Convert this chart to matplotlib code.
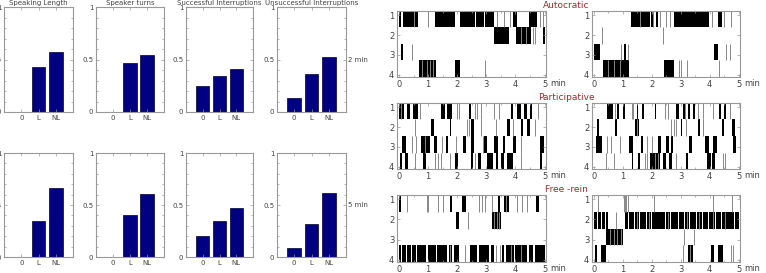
import matplotlib
matplotlib.use("Agg")
import matplotlib.pyplot as plt
import matplotlib.transforms as mtransforms
from matplotlib.ticker import MultipleLocator

# ---------------- data ----------------
BAR_TITLES = ["Speaking Length", "Speaker turns", "Successful Interruptions", "Unsuccessful Interruptions"]
BAR_CATS = ["0", "L", "NL"]
ROW_LABELS = ["2 min", "5 min"]
VALS_2MIN = [[0.0, 0.43, 0.57], [0.0, 0.47, 0.54], [0.25, 0.34, 0.41], [0.13, 0.36, 0.52]]
VALS_5MIN = [[0.0, 0.35, 0.66], [0.0, 0.40, 0.61], [0.20, 0.35, 0.47], [0.09, 0.32, 0.62]]

STYLE_TITLES = ["Autocratic", "Participative", "Free -rein"]
SPEAKERS = [1, 2, 3, 4]
TIME_TICKS = [0, 1, 2, 3, 4, 5]

# speaking blocks (minutes) per speaker, and thin single events
AUTO_L_BLOCKS = [
    [(0.0, 0.07), (0.15, 0.66), (1.25, 1.93), (2.08, 2.61), (2.65, 2.91), (2.95, 3.27), (3.90, 4.07), (4.47, 4.75)],
    [(3.27, 3.78), (4.01, 4.52), (4.94, 5.03)],
    [(0.06, 0.15)],
    [(0.68, 1.28), (1.91, 2.08)],
]
AUTO_L_LINES = [[0.5, 1.0, 3.35, 3.61, 3.82, 4.84, 4.94], [4.2, 4.35, 4.61, 4.66], [0.43], [0.8, 0.95, 1.05, 1.15, 2.95]]

AUTO_R_BLOCKS = [
    [(1.28, 1.92), (1.98, 2.09), (2.15, 2.23), (2.77, 3.20), (3.23, 3.99), (4.30, 4.44)],
    [],
    [(0.0, 0.21), (1.05, 1.10), (4.16, 4.30)],
    [(0.31, 1.22), (2.41, 2.77)],
]
AUTO_R_LINES = [[1.6, 2.03, 2.29, 2.5, 2.62, 4.07, 4.51, 4.74], [0.29, 2.38], [0.93, 1.16, 4.56, 4.71], [0.5, 0.7, 0.9, 2.93, 3.02, 3.23, 4.34]]

PART_L_BLOCKS = [
    [(0.0, 0.18), (0.26, 0.38), (0.49, 0.64), (1.45, 1.57), (1.66, 1.82), (2.39, 2.48), (3.84, 3.93), (4.07, 4.18), (4.30, 4.41), (4.50, 4.58)],
    [(1.11, 1.20), (1.74, 1.80), (2.48, 2.57), (3.70, 3.82), (4.18, 4.27), (4.41, 4.50)],
    [(0.09, 0.23), (0.77, 1.06), (1.20, 1.32), (1.62, 1.68), (2.19, 2.31), (2.48, 2.59), (2.93, 3.02), (3.27, 3.39), (3.56, 3.64), (3.93, 4.01), (4.84, 4.98)],
    [(0.04, 0.09), (0.20, 0.32), (0.83, 0.91), (1.91, 2.02), (2.48, 2.53), (2.70, 2.82), (3.02, 3.22), (3.33, 3.41), (3.50, 3.61), (3.70, 3.90), (4.84, 4.92)],
]
PART_L_LINES = [[0.08, 0.72, 1.98, 2.05, 2.6, 2.67, 2.82, 3.27, 3.44, 4.77],
                [0.55, 2.33, 2.40, 2.82, 3.33, 3.93, 4.66],
                [0.43, 0.58, 0.9, 1.48, 1.97, 2.87, 4.18],
                [0.55, 1.25, 1.35, 1.45, 1.74, 2.60, 4.18]]

PART_R_BLOCKS = [
    [(0.45, 0.65), (0.80, 0.85), (0.99, 1.08), (1.48, 1.53), (1.65, 1.74), (2.10, 2.16), (2.84, 2.95), (3.07, 3.18), (3.26, 3.33), (3.41, 3.49), (4.32, 4.40), (4.49, 4.58)],
    [(0.11, 0.17), (0.72, 0.80), (1.42, 1.56), (3.00, 3.05), (3.58, 3.67), (4.43, 4.49), (4.77, 4.89)],
    [(0.06, 0.26), (1.22, 1.36), (1.63, 1.68), (2.22, 2.33), (2.50, 2.58), (2.67, 2.73), (3.30, 3.38), (3.84, 3.98), (4.13, 4.24), (4.81, 4.92)],
    [(1.31, 1.36), (1.53, 1.59), (1.93, 2.27), (2.39, 2.50), (2.61, 2.69), (3.18, 3.26), (3.92, 4.03), (4.09, 4.17)],
]
PART_R_LINES = [[0.72, 1.3, 1.36, 2.47, 2.56, 3.13, 3.58, 3.78, 4.13, 4.72],
                [1.5, 2.65, 2.75, 2.85, 3.18, 3.78],
                [0.45, 0.57, 0.91, 1.82, 2.00],
                [0.40, 0.68, 1.75, 1.82, 2.1, 2.20, 2.84, 4.45, 4.52]]

FREE_L_BLOCKS = [
    [(0.0, 0.06), (1.76, 1.82), (2.16, 2.31), (3.39, 3.46), (3.60, 3.77), (4.72, 4.80)],
    [(1.97, 2.05), (3.20, 3.51)],
    [],
    [(0.0, 0.07), (0.11, 0.24), (0.29, 0.41), (0.46, 0.59), (0.63, 0.93), (0.98, 1.28), (1.32, 1.64), (1.70, 1.82),
     (1.90, 2.05), (2.45, 2.68), (2.74, 3.08), (3.16, 3.25), (3.54, 3.62), (3.69, 3.94), (4.00, 4.40), (4.46, 4.61), (4.66, 5.03)],
]
FREE_L_LINES = [[0.29, 0.95, 1.01, 1.35, 1.52, 2.74, 2.85, 2.97, 3.2, 3.66, 4.06, 4.23, 4.40],
                [2.36, 3.28, 3.36, 3.44],
                [],
                [1.76, 2.28, 3.34, 3.46, 3.85, 4.2]]

FREE_R_BLOCKS = [
    [],
    [(0.0, 0.12), (0.14, 0.25), (0.29, 0.38), (0.42, 0.48), (1.06, 1.16), (1.22, 1.38), (1.41, 1.55), (1.58, 1.80),
     (1.83, 1.97), (2.00, 2.20), (2.23, 2.45), (2.48, 2.62), (2.65, 2.90), (2.93, 3.10), (3.13, 3.30), (3.33, 3.52),
     (3.55, 3.75), (3.78, 3.95), (3.98, 4.20), (4.23, 4.40), (4.43, 4.62), (4.65, 4.85), (4.88, 5.03)],
    [(0.43, 1.00)],
    [(0.02, 0.11), (0.23, 0.43), (3.26, 3.41), (4.05, 4.14), (4.28, 4.45)],
]
FREE_R_LINES = [[0.14, 1.02, 1.07, 1.11, 1.19, 2.07, 4.10, 4.79],
                [0.77, 1.48, 1.90, 2.55, 3.20, 3.62, 4.10, 4.52],
                [0.55, 0.68, 0.80, 0.92, 3.10, 3.45],
                [3.08, 3.33, 4.73, 4.82]]

RASTERS = [
    (AUTO_L_BLOCKS, AUTO_L_LINES, AUTO_R_BLOCKS, AUTO_R_LINES),
    (PART_L_BLOCKS, PART_L_LINES, PART_R_BLOCKS, PART_R_LINES),
    (FREE_L_BLOCKS, FREE_L_LINES, FREE_R_BLOCKS, FREE_R_LINES),
]

# ---------------- styling ----------------
W, H = 766, 273
fig = plt.figure(figsize=(W / 100, H / 100), dpi=100)
plt.rcParams['font.family'] = ['DejaVu Sans']
TXT = '#444444'
SPINE = '#999999'
BAR = '#000080'
TITLE_RED = '#9b2d30'


def px_axes(x0, y0, x1, y1):
    return fig.add_axes([x0 / W, 1 - y1 / H, (x1 - x0) / W, (y1 - y0) / H])


def style_spines(ax):
    for s in ax.spines.values():
        s.set_color(SPINE)
        s.set_linewidth(0.8)


# bar panels
bar_cols = [(4, 73), (96, 164), (186, 253), (277, 346)]
bar_rows = [(7, 112), (153, 257)]
for r, vals_all in enumerate([VALS_2MIN, VALS_5MIN]):
    y0, y1 = bar_rows[r]
    for c, (x0, x1) in enumerate(bar_cols):
        ax = px_axes(x0, y0, x1, y1)
        xs = list(range(len(BAR_CATS)))
        ax.bar(xs, vals_all[c], width=0.8, color=BAR, edgecolor='#000033', linewidth=0.5)
        ax.set_xlim(-1, 3)
        ax.set_ylim(0, 1)
        ax.set_xticks(xs)
        ax.set_xticklabels(BAR_CATS)
        ax.set_yticks([0, 0.5, 1])
        ax.set_yticklabels(['0', '0.5', '1'])
        ax.yaxis.set_minor_locator(MultipleLocator(0.1))
        ax.tick_params(axis='both', which='both', direction='in', colors=SPINE,
                       labelcolor=TXT, labelsize=5, top=True, right=True, length=2, width=0.5, pad=2)
        ax.tick_params(axis='both', which='minor', length=1.2)
        style_spines(ax)
        if r == 0:
            ax.set_title(BAR_TITLES[c], fontsize=5, color=TXT, pad=1.5)
    fig.text(348 / W, 1 - ((y0 + y1) / 2) / H, ROW_LABELS[r], fontsize=5, color=TXT, va='center', ha='left')

# raster panels
rast_cols = [(397, 546), (592, 740)]
rast_rows = [(11, 77), (103, 169), (195, 262)]
YTOP, YBOT = 0.78, 4.12
rh = (YBOT - YTOP) / 4
for r in range(3):
    y0, y1 = rast_rows[r]
    data = RASTERS[r]
    for c in range(2):
        blocks, lines = data[2 * c], data[2 * c + 1]
        x0, x1 = rast_cols[c]
        ax = px_axes(x0, y0, x1, y1)
        for k, spk in enumerate(SPEAKERS):
            lo = YTOP + k * rh
            if blocks[k]:
                ax.broken_barh([(s, e - s) for s, e in blocks[k]], (lo, rh),
                               facecolors='black', edgecolors='none')
            if lines[k]:
                ax.vlines(lines[k], lo, lo + rh, colors='#888888', linewidth=0.7)
        ax.set_xlim(-0.07, 5.05)
        ax.set_ylim(YBOT, YTOP)
        ax.set_yticks(SPEAKERS)
        ax.set_yticklabels([str(s) for s in SPEAKERS])
        ax.set_xticks(TIME_TICKS)
        ax.set_xticklabels([str(t) for t in TIME_TICKS])
        ax.xaxis.set_minor_locator(MultipleLocator(0.5))
        ax.tick_params(axis='both', which='both', direction='in', colors=SPINE,
                       labelcolor=TXT, labelsize=6, top=True, right=True, length=2, width=0.5, pad=2)
        ax.tick_params(axis='both', which='minor', length=1.2)
        style_spines(ax)
        trans = mtransforms.blended_transform_factory(ax.transData, ax.transAxes)
        ax.text(5.18, -0.035, 'min', transform=trans, fontsize=6, color=TXT, ha='left', va='top')
    fig.text(566 / W, 1 - (y0 - 6) / H, STYLE_TITLES[r], fontsize=6.5, color=TITLE_RED, ha='center', va='center')

fig.savefig('out.png', dpi=100, facecolor='white')
